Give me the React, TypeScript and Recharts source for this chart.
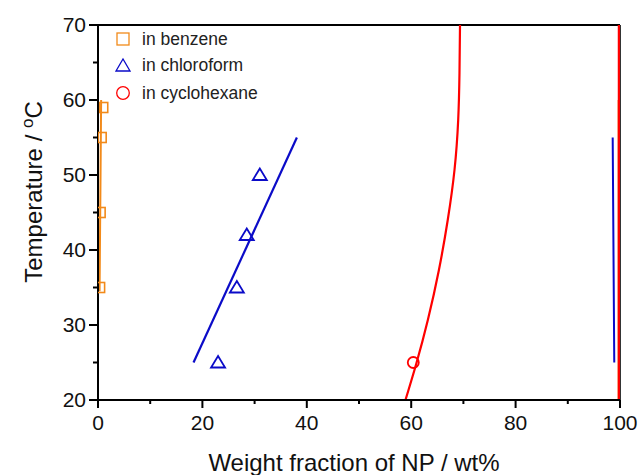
import React from 'react';
import { ComposedChart, Line, Scatter, XAxis, YAxis, ReferenceLine } from 'recharts';

const ORANGE = '#F28A1A';
const BLUE = '#0B0BC8';
const RED = '#FF0000';
const FONT = '"Liberation Sans", Arial, sans-serif';

// measured points
const benzeneX = [1.1, 0.8, 0.6, 0.5];
const benzeneY = [59, 55, 45, 35];
const chloroX = [31.0, 28.5, 26.6, 23.0];
const chloroY = [50, 42, 35, 25];
const cycloX = [60.4];
const cycloY = [25];

// fitted curves
const benzeneFitX = [0.3, 0.45, 0.6];
const benzeneFitY = [34.5, 47, 60];
const benzeneEdgeX = [99.7, 99.7];
const benzeneEdgeY = [20, 60];
const chloroFitX = [18.3, 38.1];
const chloroFitY = [25, 55];
const chloroEdgeX = [98.9, 98.75, 98.6];
const chloroEdgeY = [25, 40, 55];
const cycloFitX = [58.9, 61.0, 63.2, 65.3, 67.0, 68.3, 69.0, 69.25, 69.35];
const cycloFitY = [20, 24.9, 30.7, 37.3, 44, 50.7, 57.3, 63.6, 70];
const cycloEdgeX = [99.8, 99.8];
const cycloEdgeY = [20, 70];

const xTicks = [0, 10, 20, 30, 40, 50, 60, 70, 80, 90, 100];
const yTicks = [20, 25, 30, 35, 40, 45, 50, 55, 60, 65, 70];

const zip = (xs: number[], ys: number[]) => xs.map((x, i) => ({ x, y: ys[i] }));

const XTick = (props: any) => {
  const { x, y, payload } = props;
  const major = payload.value % 20 === 0;
  return (
    <g>
      <line x1={x} y1={y} x2={x} y2={y + (major ? 8 : 4)} stroke="#000" strokeWidth={2} />
      {major && (
        <text x={x} y={y + 30} textAnchor="middle" fontSize={21} fontFamily={FONT} fill="#111">
          {payload.value}
        </text>
      )}
    </g>
  );
};

const YTick = (props: any) => {
  const { x, y, payload } = props;
  const major = payload.value % 10 === 0;
  return (
    <g>
      <line x1={x} y1={y} x2={x - (major ? 9 : 5)} y2={y} stroke="#000" strokeWidth={2} />
      {major && (
        <text x={x - 12} y={y} dy="0.35em" textAnchor="end" fontSize={21} fontFamily={FONT} fill="#111">
          {payload.value}
        </text>
      )}
    </g>
  );
};

const SquareDot = (props: any) => (
  <rect x={props.cx - 4} y={props.cy - 5} width={8} height={10} fill="none" stroke={ORANGE} strokeWidth={1.6} />
);
const TriangleDot = (props: any) => {
  const { cx, cy } = props;
  return (
    <polygon
      points={`${cx - 7},${cy + 5} ${cx + 7},${cy + 5} ${cx},${cy - 6.5}`}
      fill="none"
      stroke={BLUE}
      strokeWidth={1.8}
    />
  );
};
const CircleDot = (props: any) => (
  <circle cx={props.cx} cy={props.cy} r={5.5} fill="none" stroke={RED} strokeWidth={1.8} />
);

const YLabel = () => (
  <text
    transform="translate(42,192) rotate(-90)"
    textAnchor="middle"
    fontSize={24}
    fontFamily={FONT}
    fill="#111"
  >
    Temperature / <tspan fontSize={17} dy={-9}>o</tspan>
    <tspan dy={9}>C</tspan>
  </text>
);

const legendItems = [
  { label: 'in benzene', color: ORANGE, shape: 'square', top: 39 },
  { label: 'in chloroform', color: BLUE, shape: 'triangle', top: 65 },
  { label: 'in cyclohexane', color: RED, shape: 'circle', top: 93 },
];

const LegendMarker = ({ shape, color }: { shape: string; color: string }) => (
  <svg width={16} height={16} style={{ display: 'block' }}>
    {shape === 'square' && <rect x={2} y={2} width={12} height={12} fill="none" stroke={color} strokeWidth={1.3} />}
    {shape === 'triangle' && <polygon points="1,14 15,14 8,2" fill="none" stroke={color} strokeWidth={1.3} />}
    {shape === 'circle' && <circle cx={8} cy={8} r={6.3} fill="none" stroke={color} strokeWidth={1.3} />}
  </svg>
);

export default function App() {
  return (
    <div style={{ position: 'absolute', left: 0, top: 0, width: 641, height: 475, background: '#fff', fontFamily: FONT }}>
      <ComposedChart width={641} height={475} margin={{ top: 25, right: 21, bottom: 0, left: 0 }}>
        <XAxis
          type="number"
          dataKey="x"
          domain={[0, 100]}
          ticks={xTicks}
          allowDataOverflow
          height={75}
          tickSize={0}
          tickMargin={0}
          tickLine={false}
          tick={<XTick />}
          axisLine={{ stroke: '#000', strokeWidth: 2 }}
          label={{ value: 'Weight fraction of NP / wt%', position: 'insideBottom', offset: 4, fontSize: 24, fill: '#111', fontFamily: FONT, dx: -5 }}
        />
        <YAxis
          type="number"
          dataKey="y"
          domain={[20, 70]}
          ticks={yTicks}
          allowDataOverflow
          width={98}
          tickSize={0}
          tickMargin={0}
          tickLine={false}
          tick={<YTick />}
          axisLine={{ stroke: '#000', strokeWidth: 2 }}
          label={<YLabel />}
        />
        <ReferenceLine y={70} stroke="#000" strokeWidth={2} />
        <ReferenceLine x={100} stroke="#000" strokeWidth={1.6} />
        <Line data={zip(benzeneFitX, benzeneFitY)} dataKey="y" type="linear" stroke={ORANGE} strokeWidth={2} dot={false} activeDot={false} isAnimationActive={false} />
        <Line data={zip(benzeneEdgeX, benzeneEdgeY)} dataKey="y" type="linear" stroke={ORANGE} strokeWidth={1.6} dot={false} activeDot={false} isAnimationActive={false} />
        <Line data={zip(chloroFitX, chloroFitY)} dataKey="y" type="linear" stroke={BLUE} strokeWidth={2.2} dot={false} activeDot={false} isAnimationActive={false} />
        <Line data={zip(chloroEdgeX, chloroEdgeY)} dataKey="y" type="linear" stroke={BLUE} strokeWidth={2} dot={false} activeDot={false} isAnimationActive={false} />
        <Line data={zip(cycloFitX, cycloFitY)} dataKey="y" type="natural" stroke={RED} strokeWidth={2.2} dot={false} activeDot={false} isAnimationActive={false} />
        <Line data={zip(cycloEdgeX, cycloEdgeY)} dataKey="y" type="linear" stroke={RED} strokeWidth={2.4} dot={false} activeDot={false} isAnimationActive={false} />
        <Scatter data={zip(benzeneX, benzeneY)} shape={<SquareDot />} isAnimationActive={false} />
        <Scatter data={zip(chloroX, chloroY)} shape={<TriangleDot />} isAnimationActive={false} />
        <Scatter data={zip(cycloX, cycloY)} shape={<CircleDot />} isAnimationActive={false} />
      </ComposedChart>
      <div style={{ position: 'absolute', left: 0, top: 0 }}>
        {legendItems.map((it) => (
          <div key={it.label} style={{ position: 'absolute', left: 115, top: it.top - 9, display: 'flex', alignItems: 'center', whiteSpace: 'nowrap' }}>
            <LegendMarker shape={it.shape} color={it.color} />
            <span style={{ marginLeft: 11, fontSize: 17.5, color: '#222', lineHeight: '18px' }}>{it.label}</span>
          </div>
        ))}
      </div>
    </div>
  );
}
